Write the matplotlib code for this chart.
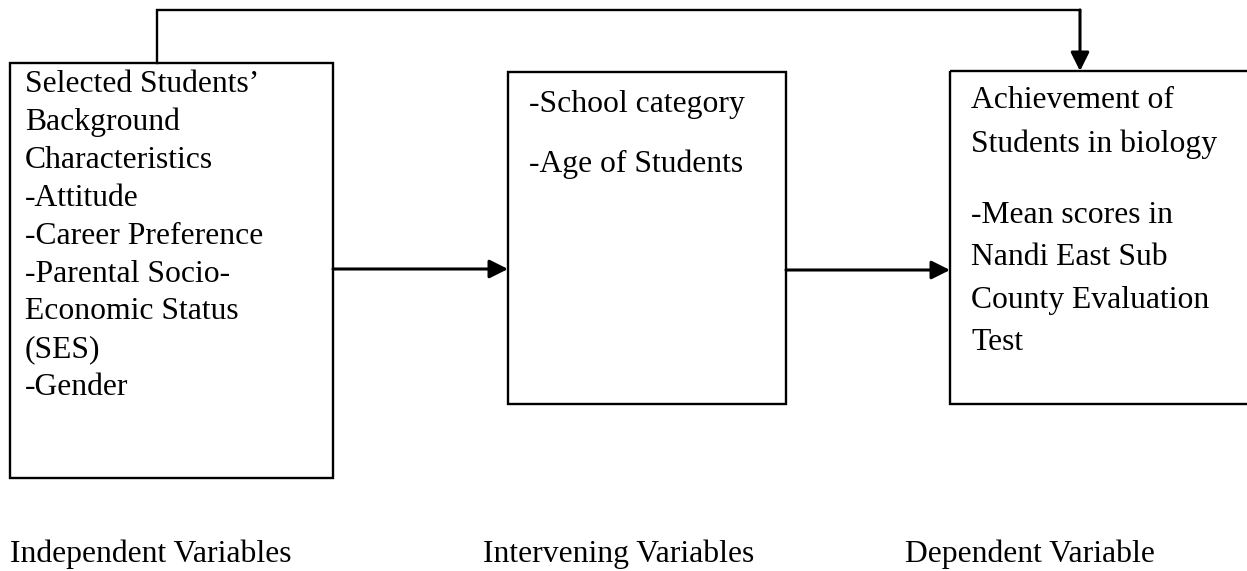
import matplotlib.pyplot as plt
from matplotlib.patches import Rectangle, FancyArrowPatch

# box contents, one line each
independent_lines = ["Selected Students\u2019", "Background", "Characteristics", "-Attitude",
                     "-Career Preference", "-Parental Socio-", "Economic Status", "(SES)", "-Gender"]
intervening_lines = ["-School category", "-Age of Students"]
dependent_lines = ["Achievement of", "Students in biology", "-Mean scores in",
                   "Nandi East Sub", "County Evaluation", "Test"]
captions = ["Independent Variables", "Intervening Variables", "Dependent Variable"]

plt.rcParams['font.family'] = ['Liberation Serif', 'DejaVu Serif']
FS = 22.8
LW = 1.7

fig = plt.figure(figsize=(12.47, 5.71), dpi=100)
ax = fig.add_axes([0, 0, 1, 1])
ax.set_xlim(0, 1247)
ax.set_ylim(571, 0)
ax.axis('off')

# boxes (x, y, w, h) in pixel space
boxes = [(10, 63, 323, 415), (508, 72, 278, 332), (950, 71, 320, 333)]
for x, y, w, h in boxes:
    ax.add_patch(Rectangle((x, y), w, h, fill=False, lw=LW, ec='black'))


def arrow(p0, p1):
    ax.add_patch(FancyArrowPatch(p0, p1, arrowstyle='-|>', mutation_scale=28,
                                 lw=2.2, color='black', shrinkA=0, shrinkB=0))


# horizontal arrows between boxes
arrow((333, 269), (508, 269))
arrow((786, 270), (950, 270))
# feedback line over the top
ax.plot([157, 157, 1080], [63, 10, 10], color='black', lw=LW, solid_joinstyle='miter')
arrow((1080, 10), (1080, 71))

# text inside boxes
for i, s in enumerate(independent_lines):
    ax.text(25, 92 + i * 37.9, s, fontsize=FS, va='baseline', ha='left')
intervening_y = [112, 172]
for s, y in zip(intervening_lines, intervening_y):
    ax.text(529, y, s, fontsize=FS, va='baseline', ha='left')
dependent_y = [108, 152, 223, 265, 308, 350]
for s, y in zip(dependent_lines, dependent_y):
    ax.text(971, y, s, fontsize=FS, va='baseline', ha='left')

caption_x = [10, 483, 905]
for s, x in zip(captions, caption_x):
    ax.text(x, 562, s, fontsize=FS, va='baseline', ha='left')

fig.savefig('out.png', dpi=100, facecolor='white')
